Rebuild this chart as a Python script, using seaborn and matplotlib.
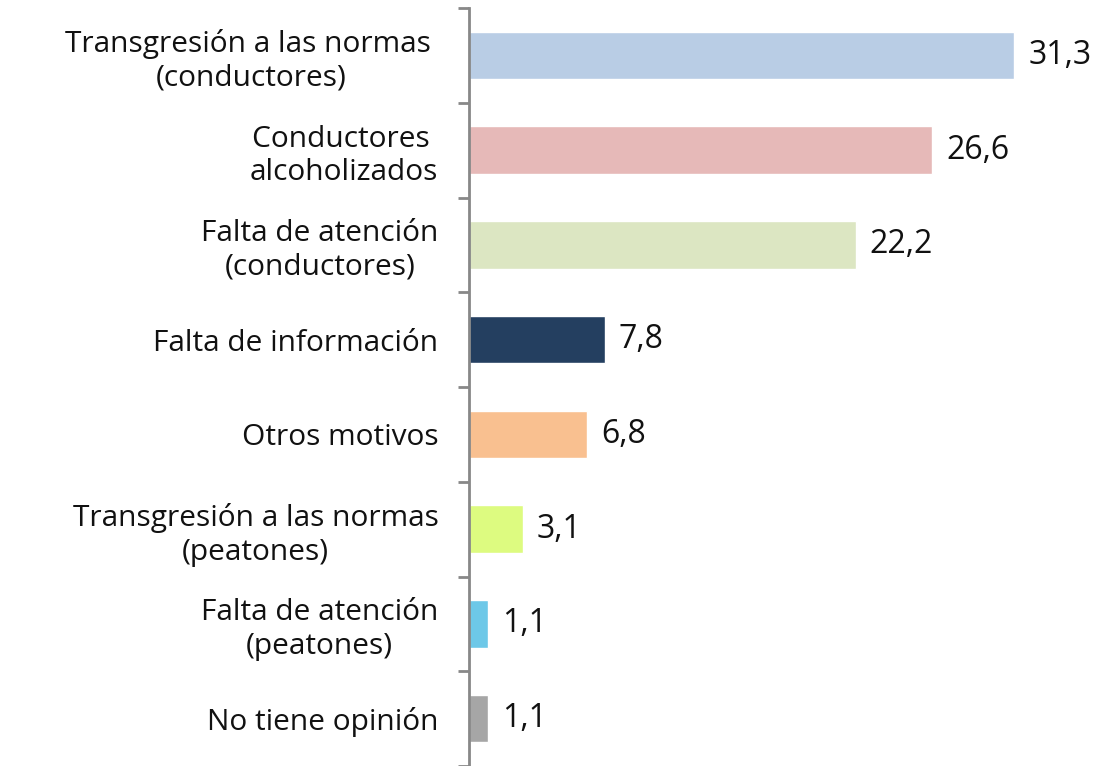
import seaborn as sns
import pandas as pd
from matplotlib import pyplot as plt
from matplotlib.ticker import FixedLocator

categorias = ["Transgresión a las normas \n(conductores)",
              "Conductores \nalcoholizados",
              "Falta de atención\n(conductores)",
              "Falta de información",
              "Otros motivos",
              "Transgresión a las normas\n(peatones)",
              "Falta de atención\n(peatones)",
              "No tiene opinión"]
valores = [31.3, 26.6, 22.2, 7.8, 6.8, 3.1, 1.1, 1.1]
colores = ["#B9CDE5", "#E6B9B8", "#DCE6C2", "#243F60",
           "#F9C090", "#DDFB80", "#6DC8E8", "#A6A6A6"]

df = pd.DataFrame({"cat": categorias, "val": valores})

sns.set_style("white")
plt.rcParams['font.family'] = ['Open Sans', 'DejaVu Sans']

fig = plt.figure(figsize=(10.98, 7.66), dpi=100)
ax = fig.add_axes([469/1098, 0.0, (1098-469)/1098, 758/766])

sns.barplot(data=df, x="val", y="cat", hue="cat", palette=colores, saturation=1,
            legend=False, width=0.5, ax=ax, orient="h")

for cont in ax.containers:
    ax.bar_label(cont, labels=[f"{v:.1f}".replace(".", ",") for v in cont.datavalues],
                 padding=10, fontsize=23, color="#111111")

ax.set_xlim(0, 36.1)
ax.set_ylim(7.5, -0.5)
ax.set_xlabel("")
ax.set_ylabel("")
ax.set_xticks([])

for s in ["top", "right", "bottom"]:
    ax.spines[s].set_visible(False)
ax.spines["left"].set_color("#888888")
ax.spines["left"].set_linewidth(2)

ax.yaxis.set_minor_locator(FixedLocator([i - 0.5 for i in range(9)]))
ax.tick_params(axis="y", which="minor", length=8, width=2, color="#888888", direction="out", left=True)
ax.tick_params(axis="y", which="major", length=0, pad=22, labelsize=21.5)
for t in ax.get_yticklabels():
    t.set_multialignment("center")
    t.set_linespacing(1.2)
    t.set_color("#111111")

fig.savefig("out.png", dpi=100)
